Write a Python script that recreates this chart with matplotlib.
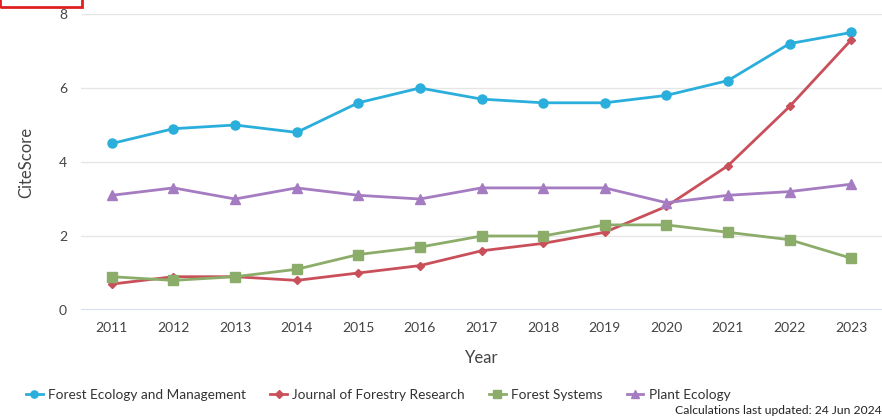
import matplotlib
matplotlib.use("Agg")
import matplotlib.pyplot as plt
from matplotlib.patches import Rectangle

years = ["2011", "2012", "2013", "2014", "2015", "2016", "2017", "2018", "2019", "2020", "2021", "2022", "2023"]
fem = [4.5, 4.9, 5.0, 4.8, 5.6, 6.0, 5.7, 5.6, 5.6, 5.8, 6.2, 7.2, 7.5]
jfr = [0.7, 0.9, 0.9, 0.8, 1.0, 1.2, 1.6, 1.8, 2.1, 2.8, 3.9, 5.5, 7.3]
fs = [0.9, 0.8, 0.9, 1.1, 1.5, 1.7, 2.0, 2.0, 2.3, 2.3, 2.1, 1.9, 1.4]
pe = [3.1, 3.3, 3.0, 3.3, 3.1, 3.0, 3.3, 3.3, 3.3, 2.9, 3.1, 3.2, 3.4]
names = ["Forest Ecology and Management", "Journal of Forestry Research", "Forest Systems", "Plant Ecology"]
y_ticks = [0, 2, 4, 6, 8]

plt.rcParams['font.family'] = ['Lato', 'DejaVu Sans']

fig = plt.figure(figsize=(8.82, 4.2), dpi=100)
ax = fig.add_axes([81/882, 110/420, 801/882, 296/420])

x = list(range(len(years)))
series = [
    (fem, "#2aaedb", "o", 6.5),
    (jfr, "#c9505a", "D", 4.5),
    (fs, "#8cad69", "s", 6.5),
    (pe, "#a57cc2", "^", 7),
]
handles = []
for (vals, col, mk, ms), nm in zip(series, names):
    h, = ax.plot(x, vals, color=col, marker=mk, markersize=ms, linewidth=2, label=nm, zorder=3)
    handles.append(h)

ax.set_xlim(-0.5, len(years) - 0.5)
ax.set_ylim(0, 8)
ax.set_xticks(x)
ax.set_xticklabels(years)
ax.set_yticks(y_ticks)
ax.set_yticklabels([str(v) for v in y_ticks])
for v in y_ticks[1:]:
    ax.axhline(v, color="#e6e6e6", linewidth=1, zorder=1)
ax.axhline(0, color="#ccd6eb", linewidth=1.2, zorder=1)
for s in ax.spines.values():
    s.set_visible(False)
ax.tick_params(axis="both", length=0, colors="#444444", labelsize=10)
ax.tick_params(axis="x", pad=9)
ax.tick_params(axis="y", pad=10)
ax.set_xlabel("Year", fontsize=12, color="#444444", labelpad=11)
ax.set_ylabel("CiteScore", fontsize=12, color="#444444", labelpad=18)

leg = fig.legend(handles=handles, loc="center left", bbox_to_anchor=(14/882, 1 - 395/420), ncol=4,
                 frameon=False, fontsize=9.8, handlelength=1.2, handletextpad=0.4, columnspacing=1.8,
                 markerscale=0.8)
for t in leg.get_texts():
    t.set_color("#333333")

fig.text(1.0, 1 - 411/420, "Calculations last updated: 24 Jun 2024", ha="right", va="center",
         fontsize=8.7, color="#222222")

fig.patches.append(Rectangle((0, 1 - 7/420), 82/882, 7/420 + 0.01, transform=fig.transFigure,
                             fill=False, edgecolor="#e02020", linewidth=2))

fig.savefig("out.png", dpi=100)
